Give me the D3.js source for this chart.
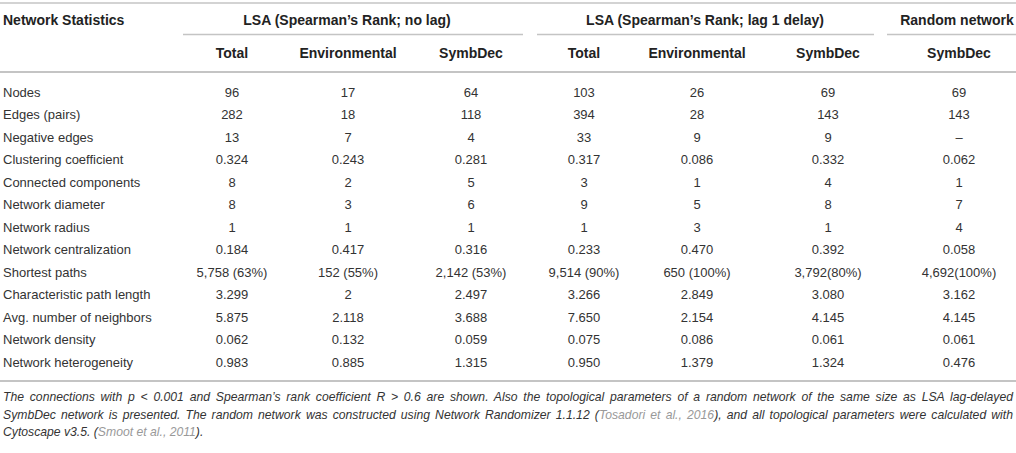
<!DOCTYPE html>
<html>
<head>
<meta charset="utf-8">
<script src="https://cdn.jsdelivr.net/npm/d3@7"></script>
<style>
  html, body { margin: 0; padding: 0; background: #fff; }
  svg text { font-family: "Liberation Sans", Arial, Helvetica, sans-serif; }
</style>
</head>
<body>
<div id="chart"></div>
<script>
// ── data ──────────────────────────────────────────────────────────────────────
const rowLabels = [
  'Nodes', 'Edges (pairs)', 'Negative edges', 'Clustering coefficient',
  'Connected components', 'Network diameter', 'Network radius',
  'Network centralization', 'Shortest paths', 'Characteristic path length',
  'Avg. number of neighbors', 'Network density', 'Network heterogeneity'
];

const groups = [
  { name: 'LSA (Spearman\u2019s Rank; no lag)',       cols: ['nlTotal', 'nlEnv', 'nlSymb'] },
  { name: 'LSA (Spearman\u2019s Rank; lag 1 delay)',  cols: ['lgTotal', 'lgEnv', 'lgSymb'] },
  { name: 'Random network',                           cols: ['rnSymb'] }
];

const colKeys   = ['nlTotal', 'nlEnv', 'nlSymb', 'lgTotal', 'lgEnv', 'lgSymb', 'rnSymb'];
const colTitles = ['Total', 'Environmental', 'SymbDec', 'Total', 'Environmental', 'SymbDec', 'SymbDec'];

const nlTotal = ['96', '282', '13', '0.324', '8', '8', '1', '0.184', '5,758 (63%)', '3.299', '5.875', '0.062', '0.983'];
const nlEnv   = ['17', '18', '7', '0.243', '2', '3', '1', '0.417', '152 (55%)', '2', '2.118', '0.132', '0.885'];
const nlSymb  = ['64', '118', '4', '0.281', '5', '6', '1', '0.316', '2,142 (53%)', '2.497', '3.688', '0.059', '1.315'];
const lgTotal = ['103', '394', '33', '0.317', '3', '9', '1', '0.233', '9,514 (90%)', '3.266', '7.650', '0.075', '0.950'];
const lgEnv   = ['26', '28', '9', '0.086', '1', '5', '3', '0.470', '650 (100%)', '2.849', '2.154', '0.086', '1.379'];
const lgSymb  = ['69', '143', '9', '0.332', '4', '8', '1', '0.392', '3,792(80%)', '3.080', '4.145', '0.061', '1.324'];
const rnSymb  = ['69', '143', '\u2013', '0.062', '1', '7', '4', '0.058', '4,692(100%)', '3.162', '4.145', '0.061', '0.476'];

const columnValues = { nlTotal, nlEnv, nlSymb, lgTotal, lgEnv, lgSymb, rnSymb };

// caption lines; gray parts are literature references
const captionLines = [
  [{ t: 'The connections with p < 0.001 and Spearman\u2019s rank coefficient R > 0.6 are shown. Also the topological parameters of a random network of the same size as LSA lag-delayed' }],
  [{ t: 'SymbDec network is presented. The random network was constructed using Network Randomizer 1.1.12 (' },
   { t: 'Tosadori et al., 2016', ref: true },
   { t: '), and all topological parameters were calculated with' }],
  [{ t: 'Cytoscape v3.5. (' }, { t: 'Smoot et al., 2011', ref: true }, { t: ').' }]
];

// ── layout ────────────────────────────────────────────────────────────────────
const W = 1016, H = 453;
const left = 3, right = 1013;

const svg = d3.select('#chart')
  .append('svg')
    .attr('width', W)
    .attr('height', H);

// column centres and group spans
const xCol = d3.scaleOrdinal()
  .domain(colKeys)
  .range([232, 348, 471, 584, 697, 828, 959]);

const groupSpan = [[183, 523], [537, 874], [887, 1016]];
const groupMid  = [347, 705, 957];

const yRow = d3.scalePoint()
  .domain(rowLabels)
  .range([92, 362]);

const textColor = '#333';
const headColor = '#222';
const ruleColor = '#c4c4c4';

// ── rules ─────────────────────────────────────────────────────────────────────
function rule(x1, x2, y, w) {
  svg.append('line')
    .attr('x1', x1).attr('x2', x2)
    .attr('y1', y).attr('y2', y)
    .attr('stroke', ruleColor)
    .attr('stroke-width', w);
}
rule(0, W, 3, 1.5);
rule(0, W, 72, 2);
rule(0, W, 381, 2);
groupSpan.forEach(s => rule(s[0], s[1], 34.5, 1.5));

// ── header ────────────────────────────────────────────────────────────────────
const head = svg.append('g')
  .attr('font-weight', 'bold')
  .attr('font-size', 14)
  .attr('fill', headColor);

head.append('text')
  .attr('x', left)
  .attr('y', 20)
  .attr('dy', '0.35em')
  .text('Network Statistics');

head.selectAll('.group-title')
  .data(groups)
  .join('text')
    .attr('class', 'group-title')
    .attr('x', (d, i) => groupMid[i])
    .attr('y', 20)
    .attr('dy', '0.35em')
    .attr('text-anchor', 'middle')
    .text(d => d.name);

head.selectAll('.col-title')
  .data(colKeys)
  .join('text')
    .attr('class', 'col-title')
    .attr('x', d => xCol(d))
    .attr('y', 53)
    .attr('dy', '0.35em')
    .attr('text-anchor', 'middle')
    .text((d, i) => colTitles[i]);

// ── body ──────────────────────────────────────────────────────────────────────
const body = svg.append('g')
  .attr('font-size', 13)
  .attr('fill', textColor);

body.selectAll('.row-label')
  .data(rowLabels)
  .join('text')
    .attr('class', 'row-label')
    .attr('x', left)
    .attr('y', d => yRow(d))
    .attr('dy', '0.35em')
    .text(d => d);

colKeys.forEach(key => {
  body.selectAll('.cell-' + key)
    .data(columnValues[key])
    .join('text')
      .attr('class', 'cell-' + key)
      .attr('x', xCol(key))
      .attr('y', (d, i) => yRow(rowLabels[i]))
      .attr('dy', '0.35em')
      .attr('text-anchor', 'middle')
      .text(d => d);
});

// ── caption (first lines justified) ──────────────────────────────────────────
const capY = [397, 415, 432];
captionLines.forEach((parts, li) => {
  const t = svg.append('text')
    .attr('x', left)
    .attr('y', capY[li])
    .attr('dy', '0.35em')
    .attr('font-size', 12.2)
    .attr('font-style', 'italic')
    .attr('fill', textColor);
  parts.forEach(p => {
    t.append('tspan')
      .attr('fill', p.ref ? '#999' : textColor)
      .text(p.t);
  });
  if (li < captionLines.length - 1) {
    const natural = t.node().getComputedTextLength();
    const spaces = parts.map(p => p.t).join('').split(' ').length - 1;
    t.attr('word-spacing', ((right - left) - natural) / spaces);
  }
});
</script>
</body>
</html>
